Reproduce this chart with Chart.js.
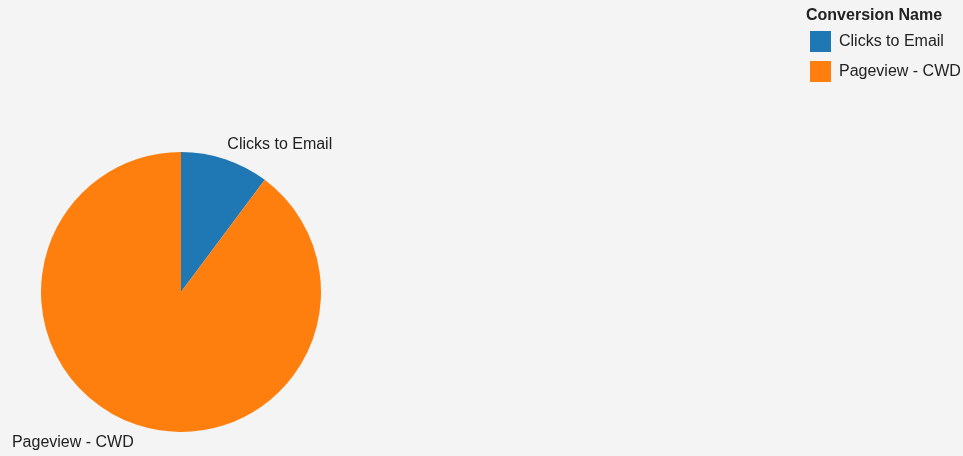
<!DOCTYPE html>
<html>
<head>
<meta charset="utf-8">
<script src="https://cdn.jsdelivr.net/npm/chart.js@4"></script>
<style>
  html, body { margin: 0; padding: 0; background: #f4f4f4; }
  #wrap { position: relative; width: 963px; height: 456px; }
  #legend { position: absolute; left: 806px; top: 6px; font-family: "Liberation Sans", Arial, sans-serif; color: #222; }
  #legend .titulo { font-weight: bold; font-size: 16px; height: 20px; line-height: 18px; }
  #legend .item { display: flex; align-items: center; height: 30px; margin-left: 4px; font-size: 16px; }
  #legend .cor { width: 21px; height: 21px; margin-right: 8px; }
</style>
</head>
<body>
<div id="wrap">
  <canvas id="chartConversao" width="963" height="456"></canvas>
  <div id="legend"></div>
</div>
<script>
// ================= DADOS =================
const categorias = ["Clicks to Email", "Pageview - CWD"];
const valores = [10, 88];
const cores = ["#1f77b4", "#ff7f0e"];
const tituloLegenda = "Conversion Name";

// legenda em HTML no canto superior direito
function renderLegenda() {
  const el = document.getElementById("legend");
  el.innerHTML =
    `<div class="titulo">${tituloLegenda}</div>` +
    categorias
      .map(
        (c, i) => `
    <div class="item"><span class="cor" style="background:${cores[i]}"></span>${c}</div>`,
      )
      .join("");
}

// rótulos fora da pizza, ancorados no ponto médio de cada fatia
const rotulosExternos = {
  id: "rotulosExternos",
  afterDatasetsDraw(chart) {
    const ctx = chart.ctx;
    const meta = chart.getDatasetMeta(0);
    ctx.save();
    ctx.font = '16px "Liberation Sans", Arial, sans-serif';
    ctx.fillStyle = "#222";
    meta.data.forEach((arc, i) => {
      const p = arc.getProps(["x", "y", "startAngle", "endAngle", "outerRadius"], true);
      const meio = (p.startAngle + p.endAngle) / 2;
      const embaixo = Math.sin(meio) >= 0;
      const r = p.outerRadius + (embaixo ? 10 : 7);
      const x = p.x + Math.cos(meio) * r;
      const y = p.y + Math.sin(meio) * r;
      ctx.textAlign = Math.cos(meio) >= 0 ? "left" : "right";
      ctx.textBaseline = embaixo ? "top" : "bottom";
      ctx.fillText(categorias[i], x, y);
    });
    ctx.restore();
  },
};

function initChart() {
  new Chart(document.getElementById("chartConversao").getContext("2d"), {
    type: "pie",
    data: {
      labels: categorias,
      datasets: [
        {
          data: valores,
          backgroundColor: cores,
          borderWidth: 0,
        },
      ],
    },
    options: {
      responsive: false,
      animation: false,
      layout: { padding: { left: 41, right: 642, top: 150, bottom: 22 } },
      plugins: { legend: { display: false }, tooltip: { enabled: false } },
    },
    plugins: [rotulosExternos],
  });
}

renderLegenda();
initChart();
</script>
</body>
</html>
